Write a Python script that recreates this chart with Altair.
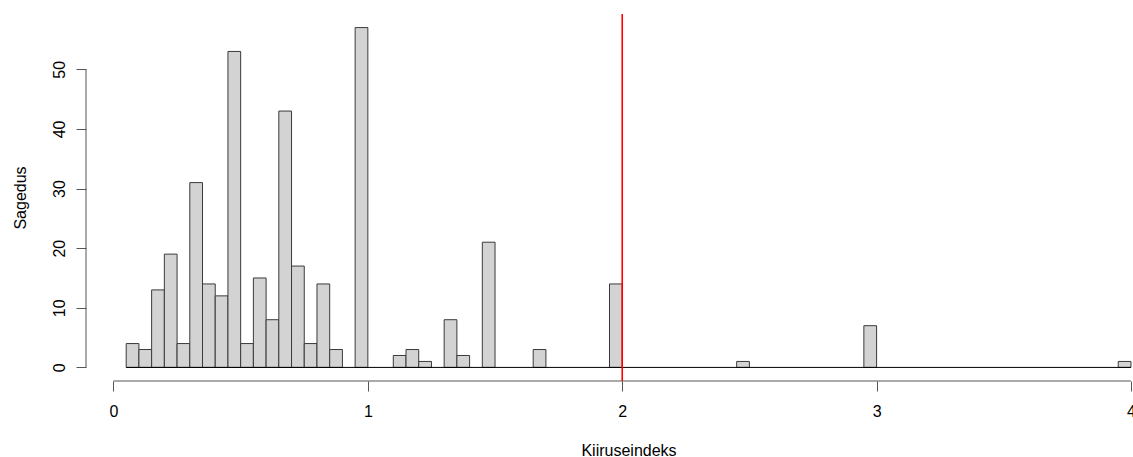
import altair as alt
import pandas as pd

# Histogram bins (left edges) with non-zero counts, bin width 0.05
bin_left = [0.05, 0.10, 0.15, 0.20, 0.25, 0.30, 0.35, 0.40, 0.45, 0.50,
            0.55, 0.60, 0.65, 0.70, 0.75, 0.80, 0.85, 0.95, 1.10, 1.15,
            1.20, 1.30, 1.35, 1.45, 1.65, 1.95, 2.45, 2.95, 3.95]
counts = [4, 3, 13, 19, 4, 31, 14, 12, 53, 4,
          15, 8, 43, 17, 4, 14, 3, 57, 2, 3,
          1, 8, 2, 21, 3, 14, 1, 7, 1]
bin_width = 0.05
break_min, break_max = 0.05, 4.0
x_ticks = [0, 1, 2, 3, 4]
y_ticks = [0, 10, 20, 30, 40, 50]
ref_line = 2.0
x_title = "Kiiruseindeks"
y_title = "Sagedus"

bars_df = pd.DataFrame({
    "x": bin_left,
    "x2": [b + bin_width for b in bin_left],
    "count": counts,
    "base": [0] * len(bin_left),
})

W, H = 1047, 367
xs = alt.Scale(domain=[-0.108, 4.008], nice=False, zero=False)
ys = alt.Scale(domain=[-2.28, 59.28], nice=False, zero=False)
FONT = "Liberation Sans"

x_axis = alt.Axis(
    values=x_ticks, format="d",
    ticks=True, tickSize=10, tickColor="#555", tickWidth=1,
    labelFontSize=16, labelFont=FONT, labelColor="#000",
    labelBaseline="top", labelPadding=12, labelFlush=False,
    titleFont=FONT, titleFontSize=16, titleFontWeight="normal", titleColor="#000",
    titleX=542.5, titleY=74, titleBaseline="alphabetic", titleAnchor="start", titleAlign="center",
)
y_axis = alt.Axis(
    values=y_ticks, format="d",
    ticks=True, tickSize=10, tickColor="#555", tickWidth=1,
    labelFontSize=16, labelFont=FONT, labelColor="#000",
    labelAngle=270, labelAlign="center", labelBaseline="alphabetic",
    labelPadding=12, labelFlush=False,
    titleFont=FONT, titleFontSize=16, titleFontWeight="normal", titleColor="#000",
    titleAngle=270, titleX=-61, titleY=183.5, titleBaseline="alphabetic", titleAlign="center",
)

bars = alt.Chart(bars_df).mark_rect(
    fill="#D3D3D3", stroke="#3a3a3a", strokeWidth=1
).encode(
    x=alt.X("x:Q", scale=xs, axis=x_axis, title=x_title),
    x2="x2:Q",
    y=alt.Y("count:Q", scale=ys, axis=y_axis, title=y_title),
    y2="base:Q",
)

baseline = alt.Chart(pd.DataFrame({"a": [break_min], "b": [break_max], "z": [0]})).mark_rule(
    color="#000", strokeWidth=1
).encode(
    x=alt.X("a:Q", scale=xs, title=x_title), x2="b:Q",
    y=alt.Y("z:Q", scale=ys, title=y_title),
)

xaxis_line = alt.Chart(pd.DataFrame({"a": [x_ticks[0]], "b": [x_ticks[-1]]})).mark_rule(
    color="#555", strokeWidth=1
).encode(
    x=alt.X("a:Q", scale=xs, title=x_title), x2="b:Q", y=alt.value(H),
)

yaxis_line = alt.Chart(pd.DataFrame({"a": [y_ticks[0]], "b": [y_ticks[-1]]})).mark_rule(
    color="#555", strokeWidth=1
).encode(
    y=alt.Y("a:Q", scale=ys, title=y_title), y2="b:Q", x=alt.value(0),
)

red = alt.Chart(pd.DataFrame({"v": [ref_line]})).mark_rule(
    color="#FF0000", strokeWidth=1.6
).encode(
    x=alt.X("v:Q", scale=xs, title=x_title), y=alt.value(0), y2=alt.value(H),
)

chart = alt.layer(bars, baseline, xaxis_line, yaxis_line, red).properties(
    width=W, height=H,
    padding={"left": 86, "top": 14, "right": 0, "bottom": 76},
    autosize=alt.AutoSizeParams(type="none"),
    background="white",
).configure_view(stroke=None).configure_axis(grid=False, domain=False)

chart.save("out.html", embed_options={"renderer": "svg", "actions": False})
